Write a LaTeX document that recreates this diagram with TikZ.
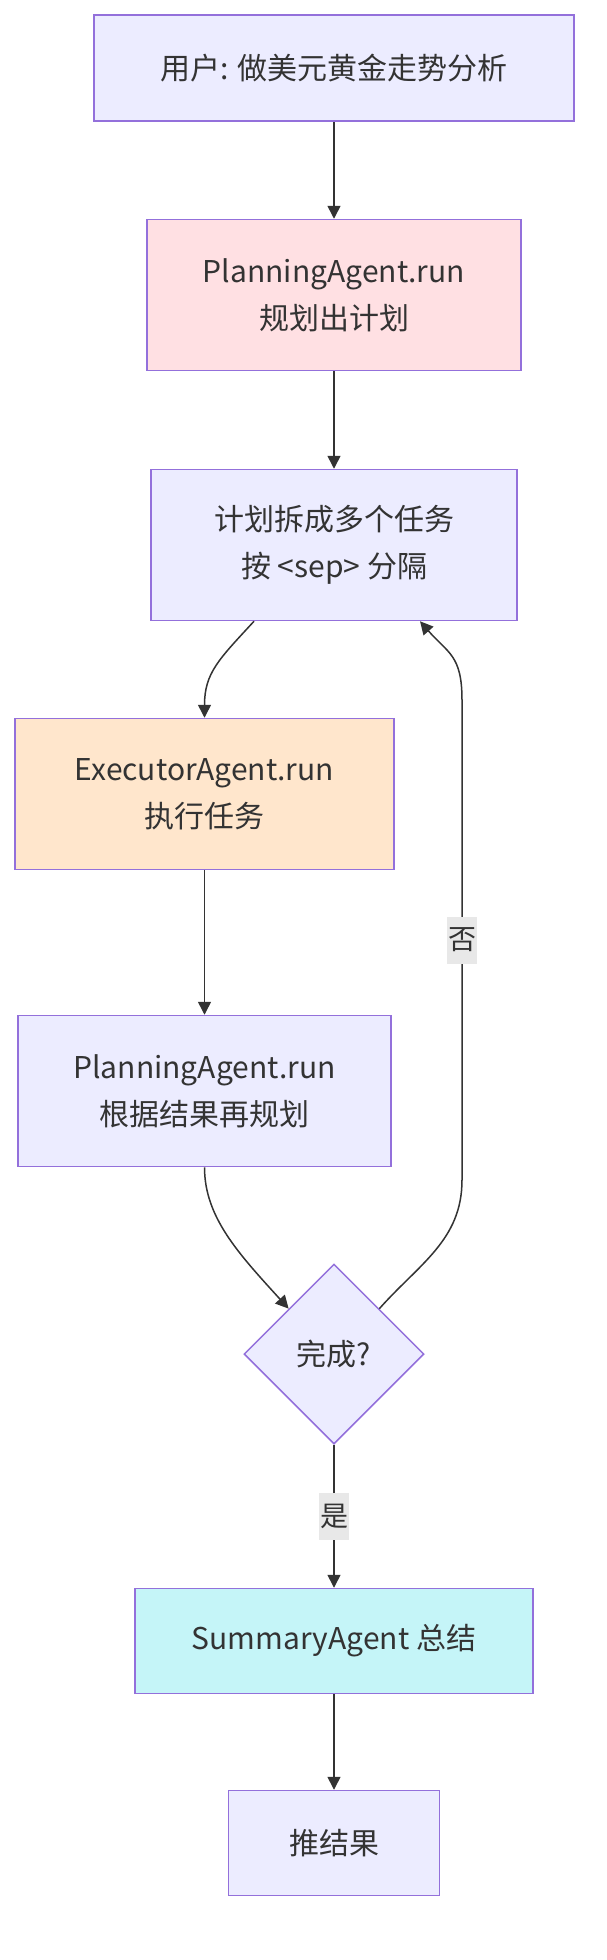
\documentclass[tikz,border=0pt]{standalone}
\usepackage{fontspec}
\setmainfont{Noto Sans CJK SC}
\usetikzlibrary{shapes.geometric,arrows.meta}
\definecolor{ink}{HTML}{333333}
\definecolor{nodeEdge}{HTML}{9370DB}
\definecolor{nodeFill}{HTML}{ECECFF}
\definecolor{planFill}{HTML}{FFE0E3}
\definecolor{execFill}{HTML}{FFE6CC}
\definecolor{summFill}{HTML}{C5F5F8}
\definecolor{tagFill}{HTML}{E8E8E8}
\tikzstyle{flow}=[draw=nodeEdge, line width=1.5pt, fill=nodeFill, text=ink,
	align=center, inner sep=0pt, font=\fontsize{30}{47}\selectfont]
\tikzstyle{plan}=[flow, fill=planFill]
\tikzstyle{exec}=[flow, fill=execFill]
\tikzstyle{summ}=[flow, fill=summFill]
\tikzstyle{decide}=[flow, diamond, aspect=1, minimum size=180]
\tikzstyle{tag}=[fill=tagFill, text=ink, inner sep=1pt, minimum height=47,
	font=\fontsize{28}{34}\selectfont]
\tikzstyle{line}=[draw, line width=1.5pt, color=ink,
	-{Triangle[length=13pt,width=13pt]}]
\newcommand{\flowNode}[3]{node (#1) [#2]
	{#3}}

\begin{document}
\begin{tikzpicture}[x=1pt,y=-1pt]
	\useasboundingbox (0,0) rectangle (606,1960);

	\path (334,68) \flowNode{user}{flow, minimum width=480, minimum height=106}{用户: 做美元黄金走势分析};
	\path (user)+(0,227) \flowNode{plan}{plan, minimum width=374, minimum height=151}{PlanningAgent.run\\规划出计划};
	\path (plan)+(0,250) \flowNode{split}{flow, minimum width=366, minimum height=151}{计划拆成多个任务\\按 <sep> 分隔};
	\path (split)+(-129.5,249) \flowNode{exec}{exec, minimum width=379, minimum height=151}{ExecutorAgent.run\\执行任务};
	\path (exec)+(0,297) \flowNode{replan}{flow, minimum width=373, minimum height=151}{PlanningAgent.run\\根据结果再规划};
	\path (split)+(0,809) \flowNode{done}{decide}{完成?};
	\path (done)+(0,287) \flowNode{summ}{summ, minimum width=398, minimum height=105}{SummaryAgent 总结};
	\path (summ)+(0,202) \flowNode{result}{flow, minimum width=211, minimum height=105}{推结果};

	% bends of the loop back
	\coordinate (noLow) at (462,1180);
	\coordinate (noHigh) at (462,700);

	% Draw arrows between elements
	\path [line] (user) -- (plan);
	\path [line] (plan) -- (split);
	\path [line] ([xshift=-80pt]split.south) .. controls +(-35,38) and +(0,-45) .. (exec.north);
	\path [line] (exec) -- (replan);
	\path [line] (replan.south) .. controls +(0,50) and +(-50,-55) .. (done.north west);
	\path [line] (done.north east) .. controls +(40,-45) and +(0,60) .. (noLow)
		-- node [tag] {否} (noHigh)
		.. controls +(0,-45) and +(28,32) .. ([xshift=86pt]split.south);
	\path [line] (done) -- node [tag] {是} (summ);
	\path [line] (summ) -- (result);

\end{tikzpicture}
\end{document}
